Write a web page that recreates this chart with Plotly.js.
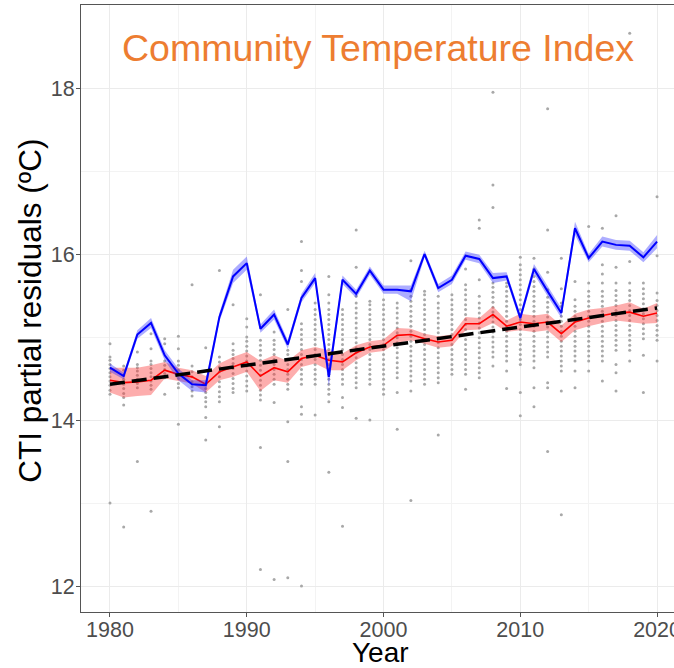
<!DOCTYPE html>
<html>
<head>
<meta charset="utf-8">
<script src="https://cdn.plot.ly/plotly-3.0.1.min.js"></script>
<style>
html,body{margin:0;padding:0;overflow:hidden;background:#fff;width:674px;height:668px;}
#chart{width:700px;height:668px;}
</style>
</head>
<body>
<div id="chart"></div>
<script>
const years = [1980,1981,1982,1983,1984,1985,1986,1987,1988,1989,1990,1991,1992,1993,1994,1995,1996,1997,1998,1999,2000,2001,2002,2003,2004,2005,2006,2007,2008,2009,2010,2011,2012,2013,2014,2015,2016,2017,2018,2019,2020];

const siteCTI = [14.63,14.53,15.03,15.17,14.78,14.56,14.43,14.42,15.24,15.73,15.89,15.10,15.27,14.91,15.47,15.71,14.52,15.69,15.52,15.80,15.57,15.57,15.55,16.00,15.59,15.69,15.98,15.94,15.71,15.73,15.23,15.82,15.55,15.29,16.31,15.95,16.15,16.11,16.10,15.96,16.15];
const siteLow = [14.58,14.49,14.98,15.11,14.72,14.48,14.35,14.33,15.19,15.65,15.81,15.05,15.21,14.86,15.42,15.65,14.40,15.64,15.47,15.75,15.52,15.52,15.43,15.96,15.54,15.64,15.93,15.89,15.65,15.68,15.18,15.76,15.49,15.23,16.23,15.90,16.09,16.05,16.04,15.90,16.07];
const siteHigh = [14.68,14.57,15.08,15.23,14.84,14.62,14.48,14.48,15.29,15.81,15.97,15.15,15.33,14.96,15.52,15.77,14.62,15.74,15.57,15.85,15.62,15.62,15.62,16.04,15.64,15.74,16.03,15.99,15.77,15.78,15.28,15.88,15.61,15.35,16.39,16.00,16.21,16.17,16.16,16.02,16.23];

const meanCTI = [14.48,14.45,14.46,14.48,14.60,14.55,14.52,14.43,14.58,14.64,14.70,14.53,14.63,14.58,14.74,14.78,14.72,14.70,14.81,14.88,14.90,15.02,15.03,14.98,14.94,14.96,15.16,15.16,15.27,15.13,15.18,15.16,15.18,15.04,15.18,15.23,15.26,15.29,15.30,15.25,15.29];
const meanLow = [14.33,14.27,14.29,14.30,14.50,14.47,14.44,14.33,14.48,14.52,14.58,14.35,14.48,14.45,14.64,14.68,14.60,14.60,14.72,14.81,14.83,14.93,14.96,14.92,14.87,14.89,15.08,15.09,15.17,15.06,15.08,15.06,15.08,14.94,15.08,15.13,15.17,15.20,15.18,15.16,15.17];
const meanHigh = [14.63,14.63,14.63,14.66,14.70,14.63,14.60,14.53,14.68,14.76,14.82,14.71,14.78,14.71,14.84,14.88,14.84,14.80,14.90,14.95,14.97,15.11,15.10,15.04,15.01,15.03,15.24,15.23,15.37,15.20,15.28,15.26,15.28,15.14,15.28,15.33,15.35,15.38,15.42,15.34,15.41];

const trendYears = [1980, 2020];
const trendCTI = [14.43, 15.35];

const residuals = [
 [13.0,14.31,14.36,14.42,14.47,14.52,14.57,14.62,14.67,14.72,14.76,14.92],
 [12.71,14.18,14.27,14.32,14.38,14.43,14.49,14.54,14.60,14.65],
 [13.50,14.39,14.44,14.49,14.54,14.59,14.63,14.67,14.82],
 [12.90,14.37,14.42,14.47,14.52,14.57,14.62,14.67,14.71,14.86,15.04],
 [14.31,14.51,14.56,14.61,14.66,14.71,14.92,14.98],
 [13.95,14.39,14.44,14.50,14.55,14.60,14.66,14.71,14.86,15.01],
 [14.29,14.35,14.40,14.46,14.52,14.58,14.65,15.63],
 [13.76,14.03,14.16,14.22,14.27,14.33,14.38,14.43,14.87],
 [13.92,14.22,14.28,14.34,14.40,14.46,14.52,14.58,14.64,14.70,14.76,15.80],
 [14.33,14.38,14.44,14.50,14.56,14.62,14.68,14.74,14.79,14.84,14.92,15.39],
 [14.35,14.41,14.47,14.53,14.59,14.65,14.71,14.77,14.83,14.89,14.95,15.00,15.12,15.22],
 [12.20,13.67,14.24,14.30,14.36,14.42,14.48,14.54,14.60,14.66,14.72,14.78,14.84,14.90,14.96,15.51],
 [12.08,14.21,14.43,14.49,14.55,14.61,14.67,14.73,14.79,14.85,14.91,14.96,15.06],
 [12.10,13.50,13.98,14.37,14.43,14.49,14.55,14.61,14.67,14.73,14.79,14.84,15.33],
 [12.00,14.07,14.16,14.43,14.49,14.55,14.61,14.67,14.73,14.79,14.85,14.91,14.97,15.03,15.09,15.16,15.67,15.80,16.15],
 [14.06,14.43,14.49,14.55,14.61,14.67,14.73,14.79,14.85,14.91,14.97,15.03,15.09,15.15,15.21,15.27,15.33,15.41],
 [13.37,14.22,14.31,14.37,14.43,14.49,14.55,14.61,14.67,14.73,14.79,14.85,14.91,14.97,15.03,15.09,15.15,15.21,15.27,15.33,15.41,15.51,15.73],
 [12.72,14.15,14.27,14.43,14.49,14.55,14.61,14.67,14.73,14.79,14.85,14.91,14.97,15.03,15.09,15.15,15.21,15.27,15.33],
 [14.02,14.39,14.45,14.51,14.57,14.63,14.69,14.75,14.81,14.87,14.93,14.99,15.05,15.11,15.17,15.23,15.29,15.35,15.41,15.49,15.84,16.29],
 [14.00,14.43,14.49,14.55,14.61,14.67,14.73,14.79,14.85,14.91,14.97,15.03,15.09,15.15,15.21,15.27,15.33,15.39,15.43],
 [14.31,14.37,14.43,14.49,14.55,14.61,14.67,14.73,14.79,14.85,14.91,14.97,15.03,15.09,15.15,15.21,15.27,15.33,15.39,15.45],
 [13.89,14.33,14.51,14.57,14.63,14.69,14.75,14.81,14.87,14.93,14.99,15.05,15.11,15.17,15.23,15.29,15.35,15.41],
 [13.03,14.35,14.47,14.53,14.59,14.65,14.71,14.77,14.83,14.89,14.95,15.01,15.07,15.13,15.19,15.25,15.31,15.37,15.43,15.49,15.57,15.92],
 [14.43,14.49,14.55,14.61,14.67,14.73,14.79,14.85,14.91,14.97,15.03,15.09,15.15,15.21,15.27,15.33,15.39,15.45,15.51,15.55],
 [13.82,14.45,14.51,14.57,14.63,14.69,14.75,14.81,14.87,14.93,14.99,15.05,15.11,15.17,15.23,15.29,15.35,15.41,15.49],
 [14.55,14.61,14.67,14.73,14.79,14.85,14.91,14.97,15.03,15.09,15.15,15.21,15.27,15.33,15.39,15.45,15.51],
 [14.37,14.55,14.61,14.67,14.73,14.79,14.85,14.91,14.97,15.03,15.09,15.15,15.21,15.27,15.33,15.39,15.45,15.51,15.57,15.63,15.82],
 [14.51,14.57,14.63,14.69,14.75,14.81,14.87,14.93,14.99,15.05,15.11,15.17,15.23,15.29,15.35,15.41,15.49,15.69,16.31,16.41],
 [14.65,14.76,14.82,14.88,14.94,15.00,15.06,15.12,15.18,15.24,15.30,15.36,15.42,15.48,15.54,15.60,15.65,16.56,16.83,17.95],
 [14.38,14.59,14.71,14.77,14.83,14.89,14.95,15.01,15.07,15.13,15.19,15.25,15.31,15.37,15.43,15.49,15.55,15.61,15.65],
 [14.05,14.33,14.67,14.73,14.79,14.85,14.91,14.97,15.03,15.09,15.15,15.21,15.27,15.33,15.39,15.45,15.51,15.57,15.63,15.69,15.75,15.81,15.87,15.96],
 [14.16,14.39,14.63,14.71,14.77,14.83,14.89,14.95,15.01,15.07,15.13,15.19,15.25,15.31,15.37,15.43,15.49,15.55,15.61,15.67,15.73,15.82,15.95],
 [13.62,14.39,14.45,14.76,14.82,14.88,14.94,15.00,15.06,15.12,15.18,15.24,15.30,15.36,15.42,15.48,15.57,15.78,16.29,17.75],
 [12.86,14.35,14.59,14.65,14.71,14.77,14.83,14.89,14.95,15.01,15.07,15.13,15.19,15.25,15.31,15.37,15.41,15.58,15.95],
 [14.39,14.59,14.71,14.77,14.83,14.89,14.95,15.01,15.07,15.13,15.19,15.25,15.31,15.37,15.45,15.67],
 [14.59,14.71,14.77,14.83,14.89,14.95,15.01,15.07,15.13,15.19,15.25,15.31,15.37,15.43,15.49,15.55,15.65,15.97,16.33],
 [14.47,14.71,14.77,14.83,14.89,14.95,15.01,15.07,15.13,15.19,15.25,15.31,15.37,15.43,15.49,15.55,15.65,15.76,15.87,16.31],
 [14.35,14.57,14.67,14.84,14.90,14.96,15.02,15.08,15.14,15.20,15.26,15.32,15.38,15.44,15.50,15.56,15.65,15.84,16.46],
 [14.71,14.84,14.90,14.96,15.02,15.08,15.14,15.20,15.26,15.32,15.38,15.44,15.50,15.56,15.65,15.91,18.66],
 [14.33,14.78,14.98,15.04,15.10,15.16,15.22,15.28,15.34,15.40,15.46,15.52,15.58,15.65],
 [14.71,14.96,15.02,15.08,15.14,15.20,15.26,15.32,15.38,15.44,15.53,15.98,16.69]
];

const xTicks = [1980, 1990, 2000, 2010, 2020];
const yTicks = [12, 14, 16, 18];
const chartTitle = "Community Temperature Index";
const xTitle = "Year";
const yTitle = "CTI partial residuals (ºC)";

const px = [], py = [];
residuals.forEach((vals, i) => { vals.forEach(v => { px.push(years[i]); py.push(v); }); });

const traces = [
  {x: px, y: py, type: 'scatter', mode: 'markers', marker: {size: 3, color: '#A8A8A8'}, hoverinfo: 'skip'},
  {x: years, y: meanLow, type: 'scatter', mode: 'lines', line: {width: 0, color: 'rgba(0,0,0,0)'}, hoverinfo: 'skip'},
  {x: years, y: meanHigh, type: 'scatter', mode: 'lines', line: {width: 0, color: 'rgba(0,0,0,0)'}, fill: 'tonexty', fillcolor: 'rgba(250,60,60,0.42)', hoverinfo: 'skip'},
  {x: years, y: meanCTI, type: 'scatter', mode: 'lines', line: {width: 1.6, color: '#FF0000'}},
  {x: years, y: siteLow, type: 'scatter', mode: 'lines', line: {width: 0, color: 'rgba(0,0,0,0)'}, hoverinfo: 'skip'},
  {x: years, y: siteHigh, type: 'scatter', mode: 'lines', line: {width: 0, color: 'rgba(0,0,0,0)'}, fill: 'tonexty', fillcolor: 'rgba(40,40,255,0.38)', hoverinfo: 'skip'},
  {x: years, y: siteCTI, type: 'scatter', mode: 'lines', line: {width: 2, color: '#0000FF'}},
  {x: trendYears, y: trendCTI, type: 'scatter', mode: 'lines', line: {width: 3.5, color: '#000000', dash: '15px,7px'}}
];

const axisCommon = {
  showline: true, linecolor: '#555555', linewidth: 1, mirror: true,
  ticks: 'outside', ticklen: 4, tickcolor: '#555555', tickwidth: 1,
  tickfont: {family: 'Liberation Sans, Arial, sans-serif', size: 21.5, color: '#4D4D4D'},
  showgrid: true, gridcolor: '#EBEBEB', gridwidth: 1, zeroline: false, automargin: false
};

const layout = {
  width: 700, height: 668,
  margin: {l: 81, r: 16, t: 5, b: 56},
  paper_bgcolor: '#FFFFFF', plot_bgcolor: '#FFFFFF',
  showlegend: false,
  font: {family: 'Liberation Sans, Arial, sans-serif'},
  xaxis: Object.assign({}, axisCommon, {
    range: [1977.88, 2021.97], tickvals: xTicks, ticktext: xTicks.map(String),
    ticklabelstandoff: -6,
    minor: {dtick: 5, tick0: 1975, showgrid: true, gridcolor: '#F3F3F3', ticks: ''}
  }),
  yaxis: Object.assign({}, axisCommon, {
    range: [11.687, 19.0], tickvals: yTicks, ticktext: yTicks.map(String),
    ticklabelstandoff: -3,
    minor: {dtick: 1, tick0: 11, showgrid: true, gridcolor: '#F3F3F3', ticks: ''}
  }),
  annotations: [
    {x: 1999.6, y: 18.48, xref: 'x', yref: 'y', text: chartTitle, showarrow: false,
     xanchor: 'center', yanchor: 'middle',
     font: {family: 'Liberation Sans, Arial, sans-serif', size: 37.5, color: '#ED7D31'}},
    {x: 0.4975, y: -0.066, xref: 'paper', yref: 'paper', text: xTitle, showarrow: false,
     xanchor: 'center', yanchor: 'middle',
     font: {family: 'Liberation Sans, Arial, sans-serif', size: 28, color: '#000000'}},
    {x: -0.085, y: 0.496, xref: 'paper', yref: 'paper', text: yTitle, showarrow: false,
     textangle: -90, xanchor: 'center', yanchor: 'middle',
     font: {family: 'Liberation Sans, Arial, sans-serif', size: 31.5, color: '#000000'}}
  ]
};

Plotly.newPlot('chart', traces, layout, {displayModeBar: false, staticPlot: true});
</script>
</body>
</html>
